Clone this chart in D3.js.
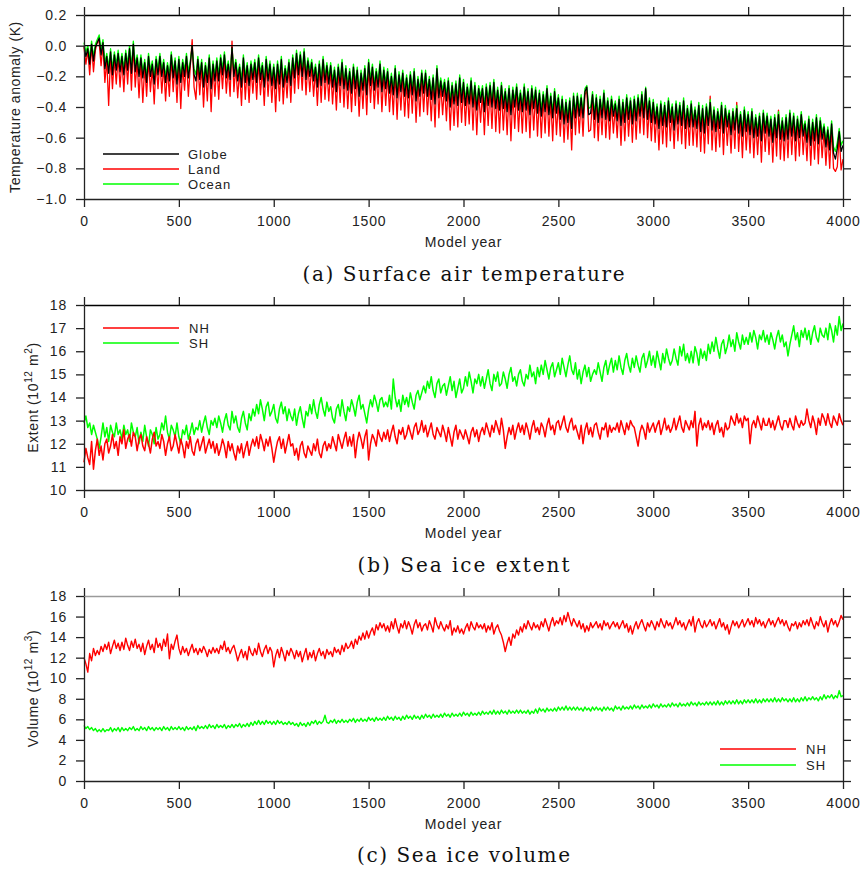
<!DOCTYPE html>
<html><head><meta charset="utf-8">
<script src="https://cdn.jsdelivr.net/npm/d3@7"></script>
<style>body{margin:0;background:#fff}svg{display:block}</style>
</head><body>
<svg id="chart" width="864" height="870"></svg>
<script>
// ---------- DATA (one value every 10 model years, 0..4000) ----------
const yearStep = 10;

const xTicks = [0, 500, 1000, 1500, 2000, 2500, 3000, 3500, 4000];
const tempTicks = [-1.0, -0.8, -0.6, -0.4, -0.2, 0.0, 0.2];
const extentTicks = [10, 11, 12, 13, 14, 15, 16, 17, 18];
const volumeTicks = [0, 2, 4, 6, 8, 10, 12, 14, 16, 18];

const tempLabels = ["Globe", "Land", "Ocean"];
const hemiLabels = ["NH", "SH"];

const tempGlobe = [
0.00,-0.07,-0.02,-0.12,0.01,-0.10,-0.01,0.02,0.05,-0.06,
0.02,-0.15,-0.07,-0.18,-0.04,-0.19,-0.06,-0.16,-0.05,-0.17,
-0.07,-0.19,-0.05,-0.16,-0.02,-0.18,0.01,-0.17,-0.08,-0.20,
-0.08,-0.21,-0.11,-0.24,-0.07,-0.20,-0.12,-0.25,-0.09,-0.19,
-0.07,-0.20,-0.11,-0.24,-0.13,-0.23,-0.06,-0.21,-0.10,-0.25,
-0.09,-0.24,-0.11,-0.20,-0.07,-0.21,-0.12,0.00,-0.19,-0.23,
-0.09,-0.22,-0.11,-0.27,-0.13,-0.24,-0.08,-0.28,-0.12,-0.23,
-0.10,-0.23,-0.08,-0.19,-0.06,-0.21,-0.12,-0.22,-0.01,-0.20,
-0.11,-0.23,-0.14,-0.27,-0.08,-0.24,-0.13,-0.26,-0.12,-0.22,
-0.11,-0.24,-0.08,-0.22,-0.13,-0.27,-0.09,-0.23,-0.12,-0.26,
-0.14,-0.28,-0.12,-0.25,-0.09,-0.27,-0.15,-0.24,-0.11,-0.26,
-0.08,-0.21,-0.05,-0.19,-0.06,-0.20,-0.04,-0.22,-0.10,-0.20,
-0.11,-0.23,-0.14,-0.27,-0.12,-0.26,-0.09,-0.24,-0.13,-0.25,
-0.13,-0.27,-0.16,-0.30,-0.14,-0.26,-0.11,-0.28,-0.15,-0.29,
-0.17,-0.31,-0.14,-0.28,-0.16,-0.33,-0.18,-0.29,-0.15,-0.32,
-0.11,-0.26,-0.14,-0.29,-0.17,-0.27,-0.12,-0.30,-0.16,-0.28,
-0.17,-0.31,-0.20,-0.32,-0.15,-0.34,-0.19,-0.30,-0.18,-0.33,
-0.21,-0.34,-0.19,-0.32,-0.17,-0.36,-0.22,-0.33,-0.18,-0.31,
-0.18,-0.33,-0.22,-0.35,-0.21,-0.38,-0.15,-0.34,-0.23,-0.33,
-0.24,-0.36,-0.23,-0.40,-0.26,-0.38,-0.25,-0.39,-0.21,-0.37,
-0.24,-0.39,-0.27,-0.38,-0.23,-0.40,-0.26,-0.42,-0.28,-0.37,
-0.28,-0.43,-0.27,-0.39,-0.26,-0.40,-0.24,-0.41,-0.29,-0.42,
-0.26,-0.41,-0.30,-0.43,-0.28,-0.45,-0.29,-0.40,-0.27,-0.42,
-0.31,-0.43,-0.27,-0.42,-0.30,-0.45,-0.28,-0.41,-0.29,-0.44,
-0.31,-0.46,-0.32,-0.43,-0.28,-0.45,-0.33,-0.47,-0.30,-0.44,
-0.34,-0.48,-0.35,-0.51,-0.37,-0.50,-0.36,-0.54,-0.33,-0.47,
-0.33,-0.46,-0.34,-0.47,-0.30,-0.27,-0.45,-0.44,-0.32,-0.48,
-0.34,-0.50,-0.35,-0.47,-0.31,-0.48,-0.36,-0.49,-0.35,-0.46,
-0.38,-0.49,-0.35,-0.52,-0.37,-0.50,-0.34,-0.48,-0.36,-0.51,
-0.35,-0.49,-0.34,-0.46,-0.32,-0.47,-0.28,-0.48,-0.36,-0.50,
-0.37,-0.51,-0.40,-0.54,-0.38,-0.52,-0.39,-0.53,-0.36,-0.50,
-0.40,-0.55,-0.38,-0.51,-0.39,-0.52,-0.36,-0.54,-0.41,-0.53,
-0.38,-0.53,-0.42,-0.54,-0.39,-0.56,-0.41,-0.57,-0.40,-0.52,
-0.37,-0.55,-0.42,-0.56,-0.43,-0.54,-0.39,-0.57,-0.41,-0.53,
-0.44,-0.58,-0.43,-0.55,-0.41,-0.57,-0.45,-0.59,-0.42,-0.56,
-0.45,-0.58,-0.43,-0.60,-0.47,-0.59,-0.46,-0.62,-0.44,-0.57,
-0.46,-0.59,-0.48,-0.63,-0.47,-0.60,-0.45,-0.61,-0.49,-0.62,
-0.47,-0.61,-0.44,-0.59,-0.46,-0.62,-0.48,-0.60,-0.45,-0.59,
-0.51,-0.63,-0.48,-0.65,-0.50,-0.62,-0.47,-0.64,-0.49,-0.61,
-0.53,-0.66,-0.55,-0.68,-0.51,-0.70,-0.74,-0.67,-0.56,-0.69,
-0.65];

const tempLand = [
-0.01,-0.12,-0.03,-0.19,0.00,-0.17,-0.03,0.03,0.02,-0.13,
0.01,-0.24,-0.09,-0.39,-0.06,-0.28,-0.08,-0.25,-0.07,-0.27,
-0.09,-0.30,-0.07,-0.25,-0.03,-0.29,0.00,-0.27,-0.10,-0.34,
-0.10,-0.37,-0.13,-0.33,-0.09,-0.30,-0.14,-0.38,-0.11,-0.28,
-0.09,-0.31,-0.13,-0.36,-0.15,-0.33,-0.08,-0.30,-0.12,-0.37,
-0.11,-0.41,-0.13,-0.29,-0.09,-0.33,-0.14,0.04,-0.27,-0.35,
-0.11,-0.32,-0.13,-0.40,-0.15,-0.36,-0.10,-0.43,-0.14,-0.33,
-0.12,-0.35,-0.10,-0.28,-0.08,-0.31,-0.14,-0.33,0.03,-0.30,
-0.13,-0.34,-0.16,-0.39,-0.10,-0.35,-0.15,-0.37,-0.14,-0.31,
-0.13,-0.35,-0.10,-0.32,-0.15,-0.39,-0.11,-0.33,-0.14,-0.37,
-0.16,-0.43,-0.14,-0.36,-0.11,-0.38,-0.17,-0.34,-0.13,-0.37,
-0.10,-0.31,-0.07,-0.28,-0.08,-0.29,-0.06,-0.32,-0.12,-0.30,
-0.13,-0.33,-0.16,-0.39,-0.14,-0.37,-0.11,-0.35,-0.15,-0.36,
-0.15,-0.38,-0.18,-0.42,-0.16,-0.37,-0.13,-0.40,-0.17,-0.41,
-0.19,-0.43,-0.16,-0.39,-0.18,-0.46,-0.20,-0.41,-0.17,-0.45,
-0.13,-0.37,-0.16,-0.41,-0.19,-0.38,-0.14,-0.43,-0.18,-0.39,
-0.19,-0.43,-0.22,-0.45,-0.17,-0.48,-0.21,-0.42,-0.20,-0.46,
-0.23,-0.47,-0.21,-0.44,-0.19,-0.50,-0.24,-0.46,-0.20,-0.43,
-0.20,-0.45,-0.24,-0.49,-0.23,-0.53,-0.17,-0.47,-0.25,-0.45,
-0.26,-0.49,-0.25,-0.55,-0.28,-0.52,-0.27,-0.53,-0.23,-0.50,
-0.26,-0.52,-0.29,-0.51,-0.25,-0.55,-0.28,-0.58,-0.30,-0.50,
-0.30,-0.58,-0.29,-0.52,-0.28,-0.54,-0.26,-0.56,-0.31,-0.57,
-0.28,-0.55,-0.32,-0.58,-0.30,-0.62,-0.31,-0.54,-0.29,-0.56,
-0.33,-0.57,-0.29,-0.56,-0.32,-0.60,-0.30,-0.55,-0.31,-0.59,
-0.33,-0.60,-0.34,-0.57,-0.30,-0.59,-0.35,-0.62,-0.32,-0.58,
-0.36,-0.59,-0.37,-0.63,-0.39,-0.61,-0.38,-0.68,-0.35,-0.58,
-0.35,-0.57,-0.36,-0.59,-0.32,-0.29,-0.56,-0.55,-0.34,-0.60,
-0.36,-0.62,-0.37,-0.58,-0.33,-0.60,-0.38,-0.61,-0.37,-0.57,
-0.40,-0.60,-0.37,-0.65,-0.39,-0.62,-0.36,-0.59,-0.38,-0.63,
-0.37,-0.61,-0.36,-0.57,-0.34,-0.58,-0.30,-0.60,-0.38,-0.62,
-0.39,-0.63,-0.42,-0.68,-0.40,-0.64,-0.41,-0.66,-0.38,-0.62,
-0.42,-0.67,-0.40,-0.62,-0.41,-0.64,-0.38,-0.67,-0.43,-0.65,
-0.40,-0.65,-0.44,-0.66,-0.41,-0.69,-0.43,-0.70,-0.42,-0.64,
-0.33,-0.68,-0.44,-0.69,-0.45,-0.66,-0.41,-0.71,-0.43,-0.65,
-0.46,-0.70,-0.45,-0.67,-0.37,-0.69,-0.47,-0.73,-0.44,-0.68,
-0.47,-0.70,-0.45,-0.73,-0.49,-0.71,-0.48,-0.76,-0.46,-0.69,
-0.48,-0.71,-0.50,-0.76,-0.49,-0.72,-0.42,-0.74,-0.51,-0.75,
-0.49,-0.73,-0.46,-0.71,-0.48,-0.75,-0.50,-0.72,-0.47,-0.71,
-0.53,-0.75,-0.50,-0.78,-0.52,-0.74,-0.49,-0.77,-0.51,-0.73,
-0.55,-0.78,-0.57,-0.80,-0.53,-0.80,-0.82,-0.79,-0.58,-0.81,
-0.74];

const tempOcean = [
0.02,-0.04,0.00,-0.08,0.03,-0.07,0.01,0.04,0.07,-0.03,
0.04,-0.11,-0.05,-0.14,-0.02,-0.15,-0.04,-0.12,-0.03,-0.13,
-0.05,-0.15,-0.03,-0.12,0.00,-0.14,0.03,-0.13,-0.06,-0.16,
-0.06,-0.17,-0.09,-0.20,-0.05,-0.16,-0.10,-0.21,-0.07,-0.15,
-0.05,-0.16,-0.09,-0.20,-0.11,-0.19,-0.04,-0.17,-0.08,-0.21,
-0.07,-0.20,-0.09,-0.16,-0.05,-0.17,-0.10,-0.01,-0.15,-0.19,
-0.07,-0.18,-0.09,-0.22,-0.11,-0.20,-0.06,-0.23,-0.10,-0.19,
-0.08,-0.19,-0.06,-0.15,-0.04,-0.17,-0.10,-0.18,-0.02,-0.16,
-0.09,-0.19,-0.12,-0.23,-0.06,-0.20,-0.11,-0.22,-0.10,-0.18,
-0.09,-0.20,-0.06,-0.18,-0.11,-0.23,-0.07,-0.19,-0.10,-0.22,
-0.12,-0.24,-0.10,-0.21,-0.07,-0.23,-0.13,-0.20,-0.09,-0.22,
-0.06,-0.17,-0.03,-0.15,-0.04,-0.16,-0.02,-0.18,-0.08,-0.16,
-0.09,-0.19,-0.12,-0.23,-0.10,-0.22,-0.07,-0.20,-0.11,-0.21,
-0.11,-0.23,-0.14,-0.26,-0.12,-0.22,-0.09,-0.24,-0.13,-0.25,
-0.15,-0.27,-0.12,-0.24,-0.14,-0.29,-0.16,-0.25,-0.13,-0.28,
-0.09,-0.22,-0.12,-0.25,-0.15,-0.23,-0.10,-0.26,-0.14,-0.24,
-0.15,-0.27,-0.18,-0.28,-0.13,-0.30,-0.17,-0.26,-0.16,-0.29,
-0.19,-0.30,-0.17,-0.28,-0.15,-0.32,-0.20,-0.29,-0.16,-0.27,
-0.16,-0.29,-0.20,-0.31,-0.19,-0.34,-0.13,-0.30,-0.21,-0.29,
-0.22,-0.32,-0.21,-0.36,-0.24,-0.34,-0.23,-0.35,-0.19,-0.33,
-0.22,-0.35,-0.25,-0.34,-0.21,-0.36,-0.24,-0.38,-0.26,-0.33,
-0.26,-0.39,-0.25,-0.35,-0.24,-0.36,-0.22,-0.37,-0.27,-0.38,
-0.24,-0.37,-0.28,-0.39,-0.26,-0.41,-0.27,-0.36,-0.25,-0.38,
-0.29,-0.39,-0.25,-0.38,-0.28,-0.41,-0.26,-0.37,-0.27,-0.40,
-0.29,-0.42,-0.30,-0.39,-0.26,-0.41,-0.31,-0.43,-0.28,-0.40,
-0.32,-0.44,-0.33,-0.47,-0.35,-0.46,-0.34,-0.50,-0.31,-0.43,
-0.31,-0.42,-0.32,-0.43,-0.28,-0.26,-0.41,-0.40,-0.30,-0.44,
-0.32,-0.46,-0.33,-0.43,-0.29,-0.44,-0.34,-0.45,-0.33,-0.42,
-0.36,-0.45,-0.33,-0.48,-0.35,-0.46,-0.32,-0.44,-0.34,-0.47,
-0.33,-0.45,-0.32,-0.42,-0.30,-0.43,-0.27,-0.44,-0.34,-0.46,
-0.35,-0.47,-0.38,-0.50,-0.36,-0.48,-0.37,-0.49,-0.34,-0.46,
-0.38,-0.51,-0.36,-0.47,-0.37,-0.48,-0.34,-0.50,-0.39,-0.49,
-0.36,-0.49,-0.40,-0.50,-0.37,-0.52,-0.39,-0.53,-0.38,-0.48,
-0.35,-0.51,-0.40,-0.52,-0.41,-0.50,-0.37,-0.53,-0.39,-0.49,
-0.42,-0.54,-0.41,-0.51,-0.39,-0.53,-0.43,-0.55,-0.40,-0.52,
-0.43,-0.54,-0.41,-0.56,-0.45,-0.55,-0.44,-0.58,-0.42,-0.53,
-0.44,-0.55,-0.46,-0.59,-0.45,-0.56,-0.43,-0.57,-0.47,-0.58,
-0.45,-0.57,-0.42,-0.55,-0.44,-0.58,-0.46,-0.56,-0.43,-0.55,
-0.49,-0.59,-0.46,-0.61,-0.48,-0.58,-0.45,-0.60,-0.47,-0.57,
-0.51,-0.62,-0.53,-0.64,-0.49,-0.66,-0.69,-0.63,-0.54,-0.65,
-0.62];

const extentNH = [
11.2,11.8,11.4,11.1,12.1,10.9,11.7,12.2,11.5,11.9,
11.3,12.0,12.2,11.6,11.9,12.4,11.8,12.1,11.5,12.3,
12.0,12.6,11.8,12.2,12.4,11.9,12.5,12.3,11.7,12.2,
12.4,11.9,11.7,12.3,12.0,11.6,12.2,12.5,11.9,12.1,
11.8,12.4,12.1,11.5,12.0,12.3,11.7,11.9,12.4,12.0,
11.6,12.2,11.9,11.4,12.1,11.8,12.3,11.7,11.5,12.0,
12.2,11.7,12.0,12.3,11.6,11.9,12.2,11.8,12.1,11.6,
12.0,11.5,11.8,12.2,11.9,11.4,12.1,11.7,12.0,11.6,
11.3,11.9,11.6,12.0,11.4,11.8,12.1,11.5,11.9,12.2,
11.9,12.3,11.8,12.4,12.1,11.7,12.2,11.9,12.3,11.8,
11.2,11.7,12.1,12.3,11.8,12.2,11.6,12.0,12.4,11.9,
12.0,11.5,11.8,11.3,11.9,12.1,11.6,11.4,11.9,11.7,
11.5,12.0,11.7,12.2,11.6,11.4,11.9,12.1,11.7,12.0,
11.8,12.3,12.0,11.7,12.4,12.1,11.8,12.2,12.5,11.9,
12.3,11.9,12.4,11.4,12.1,12.5,12.2,11.8,12.3,12.6,
11.3,12.0,12.4,12.2,11.9,12.6,12.3,12.1,12.5,12.2,
12.6,12.1,12.5,12.8,12.3,12.0,12.6,12.4,12.7,12.2,
12.4,12.8,12.5,12.2,12.7,12.9,12.4,12.6,13.0,12.5,
12.8,12.3,12.6,12.9,12.4,12.2,12.7,12.5,12.3,12.8,
12.5,12.1,12.7,12.3,11.9,12.5,12.8,12.2,12.6,12.4,
12.2,12.6,12.3,12.0,12.5,12.7,12.3,12.6,12.1,12.5,
12.7,12.4,12.9,12.6,12.3,12.8,12.5,13.0,12.7,12.4,
13.1,12.6,11.8,12.3,12.7,12.4,12.8,12.2,12.6,12.9,
12.5,12.8,12.4,12.9,12.6,12.2,12.7,13.0,12.5,12.7,
12.4,12.9,12.7,12.3,12.8,13.1,12.6,12.8,12.4,12.9,
13.0,12.6,12.9,13.2,12.7,12.5,12.9,13.1,12.6,12.8,
12.5,12.2,12.8,12.0,12.6,12.9,12.4,12.7,12.3,12.8,
12.9,12.5,12.2,12.7,12.6,12.9,12.3,12.8,12.5,12.7,
12.6,12.9,12.5,13.0,12.7,12.4,12.9,12.6,13.0,12.8,
12.7,12.3,11.9,12.5,12.8,12.6,12.2,12.9,12.5,12.7,
12.9,12.5,12.8,13.0,12.4,12.7,13.1,12.6,12.8,12.5,
12.7,13.1,12.6,12.9,13.2,12.7,12.5,13.0,12.8,12.6,
13.0,12.7,13.4,11.9,12.8,13.1,12.6,12.9,12.7,13.0,
12.6,12.9,12.4,12.8,13.0,12.5,12.7,12.3,12.9,12.6,
12.7,13.2,13.0,12.8,13.3,12.9,13.1,12.7,13.2,13.0,
13.1,12.0,12.8,13.0,12.7,13.2,12.9,12.6,13.1,12.8,
12.8,13.1,12.7,13.0,12.6,12.9,13.2,12.8,12.6,13.0,
13.0,12.7,13.1,12.8,12.6,13.2,12.9,12.7,13.0,12.8,
12.9,13.5,13.0,12.7,13.2,12.9,12.4,13.1,12.8,13.3,
13.1,12.8,13.3,12.9,12.7,13.2,13.0,12.8,13.3,13.0,
12.8];

const extentSH = [
12.9,13.2,12.7,12.9,12.4,12.8,12.5,12.2,11.8,12.3,
12.9,12.3,12.7,12.1,12.8,12.5,12.3,12.9,12.4,12.6,
12.2,12.8,12.4,12.6,12.1,12.9,12.5,12.3,12.7,12.0,
12.5,12.1,12.8,12.3,11.9,12.6,12.4,12.0,12.7,12.2,
12.4,12.9,12.6,13.2,12.5,12.2,12.8,12.6,12.3,12.9,
12.3,12.0,12.6,12.4,12.8,12.2,12.5,12.9,12.4,12.7,
12.6,13.0,12.5,12.9,13.2,12.7,12.4,13.0,12.8,13.1,
12.7,13.2,12.9,12.5,13.0,13.3,12.8,12.6,13.4,12.9,
13.2,12.7,12.5,13.1,13.4,12.9,12.6,13.3,13.0,13.5,
13.2,13.7,13.3,13.9,13.5,13.0,13.6,13.8,13.2,13.4,
13.7,13.1,12.9,13.5,13.8,13.3,13.6,13.0,13.5,13.2,
13.0,13.5,12.8,13.3,13.6,13.1,12.7,13.4,13.2,13.7,
13.3,13.9,13.4,13.1,13.7,14.0,13.5,13.2,13.8,13.4,
13.6,13.1,12.9,13.5,13.7,13.2,13.9,13.4,13.0,13.6,
13.4,13.9,13.6,13.2,13.8,14.1,13.5,13.7,13.3,12.9,
13.5,13.9,13.6,14.1,13.8,13.4,13.9,14.0,13.6,13.8,
13.6,14.1,13.5,14.8,14.0,13.6,13.9,13.4,14.1,13.7,
14.0,13.6,14.2,13.8,13.5,14.1,14.3,13.9,14.2,14.5,
14.2,14.7,14.4,14.9,14.3,14.0,14.6,14.8,14.2,14.5,
14.6,14.1,14.5,14.9,14.3,14.7,14.0,14.4,14.8,14.2,
14.4,14.9,14.5,15.1,14.7,14.2,14.8,14.6,15.0,14.5,
14.9,14.4,14.8,15.2,14.6,14.3,15.0,14.7,15.1,14.5,
14.6,15.1,14.8,14.4,15.0,15.3,14.7,14.9,14.5,15.0,
15.2,14.7,14.5,15.0,14.8,15.4,14.9,15.1,14.6,15.3,
14.9,15.4,15.0,15.6,15.2,14.8,15.3,15.5,14.9,15.2,
15.5,15.0,15.7,15.3,14.9,15.4,15.8,15.2,15.0,15.5,
14.8,15.2,14.6,15.1,15.4,14.9,15.3,14.7,15.0,15.2,
15.0,15.5,15.1,14.7,15.3,15.6,15.0,15.4,15.7,15.1,
15.6,15.2,15.8,15.3,15.0,15.6,15.9,15.4,15.1,15.7,
15.3,15.8,15.4,15.1,15.7,15.9,15.3,15.6,16.0,15.4,
15.8,15.3,16.0,15.6,15.2,15.9,15.5,16.1,15.7,15.4,
15.6,16.1,15.7,15.4,16.2,15.8,16.3,15.6,15.9,15.5,
16.0,15.5,16.2,15.9,15.4,16.1,15.7,16.0,15.6,16.3,
15.9,16.4,16.0,16.6,16.1,15.7,16.3,16.5,15.9,16.2,
16.7,16.2,16.5,16.0,16.8,16.4,16.1,16.7,16.3,16.6,
16.3,16.8,16.4,16.9,16.6,16.1,16.7,16.5,16.9,16.4,
16.7,16.3,16.8,16.5,16.1,16.6,16.9,16.4,16.7,16.2,
16.4,15.8,16.3,16.7,17.1,16.5,16.8,16.2,16.9,16.6,
17.0,16.5,16.9,16.3,16.8,17.1,16.6,16.4,17.0,16.7,
16.6,17.0,16.5,17.2,16.9,16.4,17.1,16.7,17.5,16.9,
17.2];

const volumeNH = [
12.0,11.4,10.6,12.4,11.7,12.9,12.2,12.7,12.3,13.1,
12.6,13.3,12.8,13.5,12.4,13.1,13.7,12.9,13.4,12.7,
13.5,12.8,13.9,13.2,12.7,13.6,13.0,13.8,12.9,13.3,
12.6,13.4,12.3,13.1,13.7,12.8,13.3,12.5,13.9,13.0,
13.4,12.7,13.8,13.1,14.3,11.9,13.3,12.8,13.6,14.2,
12.9,12.3,13.1,12.5,12.9,12.2,12.8,13.3,12.5,12.9,
12.3,12.9,12.5,13.1,12.7,12.1,12.8,12.4,13.0,12.5,
12.9,12.4,13.2,12.8,13.6,12.6,13.0,12.4,12.9,13.2,
12.5,11.7,12.3,12.8,12.0,12.6,11.8,13.1,12.5,12.2,
12.9,12.3,13.4,12.6,12.1,12.8,13.2,12.4,13.0,12.6,
11.1,12.2,12.8,12.0,13.0,12.4,11.7,12.7,12.2,12.9,
12.5,11.9,12.7,12.1,12.6,11.6,12.3,12.9,11.8,12.5,
12.0,12.7,11.7,12.4,12.9,12.2,12.6,11.9,12.8,12.3,
12.6,12.1,13.0,12.5,12.8,12.3,13.2,12.6,13.4,12.9,
13.1,13.6,12.9,13.8,13.3,14.1,13.7,14.4,13.8,14.6,
13.9,14.5,14.9,14.2,15.2,14.7,15.4,14.9,15.3,14.6,
15.1,14.5,15.5,14.8,15.8,15.0,14.4,15.3,14.9,15.6,
14.8,15.5,15.0,14.3,15.2,15.7,14.9,15.4,14.6,15.1,
15.3,14.7,15.6,15.1,14.5,15.9,15.2,14.8,15.5,15.0,
14.6,15.2,14.8,15.6,14.2,14.9,14.5,15.1,14.4,14.8,
14.3,14.9,15.3,14.6,15.5,15.0,14.7,15.4,14.9,15.2,
14.8,15.3,14.5,15.1,14.7,15.4,14.3,14.9,15.2,14.6,
14.2,13.5,12.6,13.4,14.0,13.2,14.3,13.9,14.7,14.2,
15.0,14.5,15.3,14.8,15.6,15.1,14.7,15.4,14.9,15.2,
14.7,15.5,15.0,15.8,15.2,14.6,15.4,15.9,15.1,15.6,
15.3,15.9,15.2,16.1,15.5,16.4,15.7,15.1,15.8,15.4,
15.0,15.6,14.8,15.3,14.5,15.1,14.6,15.4,14.9,15.2,
15.5,14.9,15.3,14.7,15.6,15.1,15.4,14.8,15.2,15.5,
15.0,15.4,14.8,15.2,15.6,14.9,15.3,14.5,15.1,14.3,
15.0,15.5,14.8,15.3,15.7,15.1,14.6,15.4,15.0,15.6,
15.2,14.7,15.5,15.0,15.8,15.3,14.9,15.6,15.1,15.4,
14.8,15.3,15.9,15.2,15.6,15.0,15.4,14.7,15.2,15.7,
15.1,16.0,14.5,15.4,15.8,15.2,14.9,15.6,15.0,15.3,
15.7,15.1,15.5,14.8,15.3,15.8,15.0,15.4,14.7,15.2,
14.3,15.0,15.6,15.1,15.5,14.9,15.3,15.7,15.0,15.4,
15.8,15.2,15.6,15.0,15.9,15.3,15.7,15.1,15.5,14.9,
15.4,15.8,15.2,15.6,15.0,15.5,15.9,15.3,15.7,15.1,
15.6,15.0,14.6,15.3,15.1,15.5,14.8,15.4,15.0,15.6,
15.2,15.7,15.1,15.9,15.3,14.8,15.5,15.1,16.0,15.4,
15.0,15.6,14.5,15.3,15.8,15.2,15.6,15.0,15.5,16.1,
15.7];

const volumeSH = [
5.4,5.1,5.3,5.0,5.2,4.9,5.1,4.8,5.0,4.8,
5.1,4.8,5.0,4.9,5.2,4.8,5.1,4.9,5.2,4.8,
5.2,4.9,5.1,4.9,5.2,5.0,5.3,4.9,5.1,4.9,
5.3,5.0,5.2,4.9,5.3,5.0,5.2,4.9,5.2,5.0,
5.2,4.9,5.3,5.0,5.2,4.9,5.3,5.0,5.2,5.0,
5.3,5.0,5.2,4.9,5.3,5.0,5.2,5.0,5.3,4.9,
5.4,5.1,5.3,5.1,5.4,5.1,5.5,5.2,5.4,5.1,
5.5,5.2,5.4,5.2,5.5,5.1,5.4,5.2,5.5,5.2,
5.5,5.3,5.6,5.2,5.5,5.3,5.6,5.3,5.7,5.4,
5.8,5.5,5.9,5.5,5.8,5.5,5.9,5.6,5.8,5.5,
5.8,5.5,5.9,5.6,5.8,5.5,5.7,5.5,5.8,5.5,
5.7,5.4,5.6,5.3,5.7,5.4,5.6,5.3,5.7,5.4,
5.8,5.6,5.9,5.5,5.8,5.6,5.8,6.4,5.7,5.6,
5.9,5.7,6.0,5.6,5.9,5.7,6.0,5.7,5.9,5.7,
6.0,5.8,6.1,5.7,6.0,5.8,6.1,5.8,6.0,5.8,
6.2,5.9,6.1,5.8,6.2,5.9,6.1,5.9,6.2,5.9,
6.3,6.0,6.2,5.9,6.3,6.0,6.2,5.9,6.3,6.0,
6.4,6.1,6.3,6.0,6.4,6.1,6.3,6.0,6.4,6.1,
6.5,6.2,6.4,6.1,6.5,6.2,6.4,6.2,6.5,6.2,
6.6,6.3,6.5,6.2,6.6,6.3,6.5,6.3,6.6,6.3,
6.7,6.4,6.6,6.3,6.7,6.4,6.6,6.4,6.7,6.4,
6.8,6.5,6.7,6.5,6.8,6.5,6.9,6.5,6.8,6.5,
6.9,6.6,6.8,6.5,6.9,6.6,6.8,6.6,6.9,6.6,
6.9,6.6,6.8,6.6,6.9,6.5,6.8,6.6,7.0,6.6,
7.1,6.8,7.0,6.7,7.1,6.8,7.0,6.8,7.1,6.8,
7.2,6.9,7.2,6.9,7.3,6.9,7.2,6.9,7.2,6.9,
7.2,6.9,7.1,6.8,7.2,6.9,7.1,6.8,7.2,6.9,
7.2,6.9,7.1,6.8,7.2,6.9,7.2,6.9,7.1,6.8,
7.3,7.0,7.2,6.9,7.3,7.0,7.2,7.0,7.3,7.0,
7.4,7.1,7.3,7.0,7.4,7.1,7.3,7.1,7.4,7.1,
7.5,7.2,7.4,7.1,7.5,7.2,7.4,7.2,7.5,7.2,
7.6,7.3,7.5,7.2,7.6,7.3,7.5,7.3,7.6,7.3,
7.7,7.4,7.6,7.3,7.7,7.4,7.6,7.4,7.7,7.4,
7.7,7.4,7.7,7.4,7.8,7.4,7.7,7.4,7.8,7.5,
7.8,7.5,7.8,7.5,7.9,7.5,7.8,7.5,7.9,7.6,
7.9,7.6,7.9,7.6,8.0,7.6,7.9,7.6,8.0,7.7,
8.0,7.7,8.0,7.7,8.1,7.7,8.0,7.7,8.1,7.8,
8.0,7.7,8.0,7.7,8.1,7.7,8.0,7.7,8.1,7.8,
8.2,7.8,8.1,7.9,8.2,7.9,8.1,7.8,8.2,7.9,
8.4,8.0,8.3,8.1,8.4,8.0,8.3,8.1,8.8,8.2,
8.3];

// ---------- DRAWING ----------
const svg = d3.select("#chart");
const FONT = "'Liberation Sans', Arial, Helvetica, sans-serif";
const TITLE_FONT = "'DejaVu Serif', 'Liberation Serif', serif";
const RED = "#ff0000", GREEN = "#00ff00", BLACK = "#000000";

const x = d3.scaleLinear().domain([0, 4000]).range([84, 843]);
const yearOf = (d, i) => i * yearStep;

const panels = [
  { top: 15, bottom: 199, domain: [-1.0, 0.2], ticks: tempTicks, fmt: d3.format(".1f"), sw: 1.3,
    series: [{v: tempLand, c: RED}, {v: tempOcean, c: GREEN}, {v: tempGlobe, c: BLACK}],
    zero: true, topColor: BLACK,
    ylabel: [["Temperature anomaly (K)", 0]], ylabelX: 20,
    legend: {x1: 103, x2: 179, tx: 188, ys: [154, 169, 184], labels: tempLabels, colors: [BLACK, RED, GREEN]},
    title: "(a) Surface air temperature", titleY: 281, titleW: 322 },
  { top: 305, bottom: 490, domain: [10, 18], ticks: extentTicks, fmt: d3.format("d"), sw: 1.5,
    series: [{v: extentSH, c: GREEN}, {v: extentNH, c: RED}],
    zero: false, topColor: BLACK,
    ylabel: [["Extent (10", 0], ["12", -1], [" m", 1], ["2", -1], [")", 1]], ylabelX: 38,
    legend: {x1: 103, x2: 179, tx: 189, ys: [328, 343], labels: hemiLabels, colors: [RED, GREEN]},
    title: "(b) Sea ice extent", titleY: 572, titleW: 212 },
  { top: 596, bottom: 781, domain: [0, 18], ticks: volumeTicks, fmt: d3.format("d"), sw: 1.4,
    series: [{v: volumeSH, c: GREEN}, {v: volumeNH, c: RED}],
    zero: false, topColor: "#9a9a9a",
    ylabel: [["Volume (10", 0], ["12", -1], [" m", 1], ["3", -1], [")", 1]], ylabelX: 38,
    legend: {x1: 720, x2: 796, tx: 806, ys: [749, 765], labels: hemiLabels, colors: [RED, GREEN]},
    title: "(c) Sea ice volume", titleY: 862, titleW: 213 }
];

function styleAxis(g, color) {
  g.selectAll("path.domain").attr("stroke", color).attr("stroke-width", 1.3);
  g.selectAll(".tick line").attr("stroke", color).attr("stroke-width", 1.3);
  g.selectAll("text").attr("font-family", FONT).attr("font-size", 14)
    .attr("letter-spacing", 0.8).attr("fill", "#222");
  g.attr("font-family", null).attr("font-size", null);
}

panels.forEach(p => {
  const y = d3.scaleLinear().domain(p.domain).range([p.bottom, p.top]);
  const g = svg.append("g");

  const line = d3.line().x((d, i) => x(yearOf(d, i))).y(d => y(d));
  p.series.forEach(s => {
    g.append("path").datum(s.v)
      .attr("fill", "none").attr("stroke", s.c).attr("stroke-width", p.sw)
      .attr("stroke-linejoin", "round").attr("d", line);
  });

  if (p.zero) {
    g.append("line").attr("x1", x(0)).attr("x2", x(4000))
      .attr("y1", y(0)).attr("y2", y(0)).attr("stroke", BLACK).attr("stroke-width", 1.3);
  }

  g.append("g").attr("transform", `translate(0,${p.bottom})`)
    .call(d3.axisBottom(x).tickValues(xTicks).tickSize(8).tickSizeOuter(0).tickPadding(9).tickFormat(d3.format("d")))
    .call(a => styleAxis(a, "#222"));
  g.append("g").attr("transform", `translate(0,${p.top})`)
    .call(d3.axisTop(x).tickValues(xTicks).tickSize(8).tickSizeOuter(0).tickFormat(""))
    .call(a => styleAxis(a, "#222"))
    .call(a => a.select("path.domain").attr("stroke", p.topColor));
  g.append("g").attr("transform", `translate(${x(0)},0)`)
    .call(d3.axisLeft(y).tickValues(p.ticks).tickSize(8).tickSizeOuter(0).tickPadding(9).tickFormat(p.fmt))
    .call(a => styleAxis(a, "#222"));
  g.append("g").attr("transform", `translate(${x(4000)},0)`)
    .call(d3.axisRight(y).tickValues(p.ticks).tickSize(8).tickSizeOuter(0).tickFormat(""))
    .call(a => styleAxis(a, "#222"));

  g.append("text").attr("x", (x(0) + x(4000)) / 2).attr("y", p.bottom + 48)
    .attr("text-anchor", "middle").attr("font-family", FONT).attr("font-size", 14)
    .attr("letter-spacing", 0.8).attr("fill", "#222").text("Model year");

  const yl = g.append("text")
    .attr("transform", `translate(${p.ylabelX},${(p.top + p.bottom) / 2}) rotate(-90)`)
    .attr("text-anchor", "middle").attr("font-family", FONT).attr("font-size", 14)
    .attr("letter-spacing", 0.6).attr("fill", "#222");
  p.ylabel.forEach(([t, s]) => {
    const ts = yl.append("tspan").text(t);
    if (s === -1) ts.attr("dy", -6).attr("font-size", 10);
    else if (s === 1) ts.attr("dy", 6);
  });

  const L = p.legend;
  L.labels.forEach((lab, i) => {
    g.append("line").attr("x1", L.x1).attr("x2", L.x2).attr("y1", L.ys[i]).attr("y2", L.ys[i])
      .attr("stroke", L.colors[i]).attr("stroke-width", 1.3);
    g.append("text").attr("x", L.tx).attr("y", L.ys[i] + 5)
      .attr("font-family", FONT).attr("font-size", 13).attr("letter-spacing", 1)
      .attr("fill", "#222").text(lab);
  });

  g.append("text").attr("x", (x(0) + x(4000)) / 2 - p.titleW / 2).attr("y", p.titleY)
    .attr("font-family", TITLE_FONT).attr("font-size", 20)
    .attr("textLength", p.titleW).attr("lengthAdjust", "spacing")
    .attr("fill", "#111").text(p.title);
});
</script>
</body></html>
